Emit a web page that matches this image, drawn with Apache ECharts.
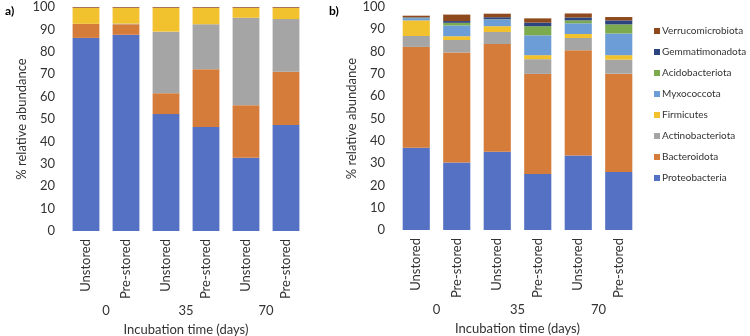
<!DOCTYPE html>
<html>
<head>
<meta charset="utf-8">
<script src="https://cdn.jsdelivr.net/npm/echarts@6/dist/echarts.min.js"></script>
<style>
  html, body { margin: 0; padding: 0; background: #fff; }
  #chart { width: 750px; height: 336px; }
</style>
</head>
<body>
<div id="chart"></div>
<script>
  // sample labels, two per incubation time
  const samples = ['Unstored', 'Pre-stored', 'Unstored', 'Pre-stored', 'Unstored', 'Pre-stored'];
  const days = ['0', '35', '70'];
  const yTicks = [0, 10, 20, 30, 40, 50, 60, 70, 80, 90, 100];

  const phyla = ['Proteobacteria', 'Bacteroidota', 'Actinobacteriota', 'Firmicutes',
    'Myxococcota', 'Acidobacteriota', 'Gemmatimonadota', 'Verrucomicrobiota'];
  const colors = ['#5571c3', '#d67c3a', '#a5a5a5', '#f1c12e', '#6d9dd7', '#7caa4f', '#2c4480', '#8e4a1d'];

  // panel a)
  const aProteo = [86.2, 87.6, 52.2, 46.4, 32.7, 47.3];
  const aBactero = [6.2, 4.7, 9.3, 25.8, 23.4, 23.8];
  const aActino = [0.1, 0.3, 27.5, 20.1, 39.1, 23.5];
  const aFirmic = [7.1, 7.0, 10.6, 7.3, 4.4, 5.0];
  const aMyxo = [0, 0, 0, 0, 0, 0];
  const aAcido = [0, 0, 0, 0, 0, 0];
  const aGemma = [0.1, 0.1, 0.1, 0.1, 0.1, 0.1];
  const aVerruco = [0.3, 0.3, 0.3, 0.3, 0.3, 0.3];

  // panel b)
  const bProteo = [36.9, 30.3, 35.1, 25.1, 33.4, 26.0];
  const bBactero = [45.2, 49.3, 48.3, 44.9, 47.2, 44.1];
  const bActino = [4.9, 5.6, 5.4, 6.6, 5.5, 6.3];
  const bFirmic = [7.0, 1.7, 2.6, 1.8, 1.8, 2.0];
  const bMyxo = [1.0, 4.8, 3.0, 8.9, 4.8, 9.7];
  const bAcido = [0.2, 1.2, 0.1, 4.1, 1.3, 4.1];
  const bGemma = [0.2, 0.8, 0.9, 1.6, 1.3, 1.8];
  const bVerruco = [0.7, 2.9, 1.6, 1.9, 1.8, 1.5];

  const panelA = [aProteo, aBactero, aActino, aFirmic, aMyxo, aAcido, aGemma, aVerruco];
  const panelB = [bProteo, bBactero, bActino, bFirmic, bMyxo, bAcido, bGemma, bVerruco];

  const font = 'Lato';
  const txt = '#333';
  const fs = 13;

  function makeSeries(panel, idx) {
    return panel.map((vals, i) => ({
      name: phyla[i],
      type: 'bar',
      stack: 'p' + idx,
      xAxisIndex: idx * 2,
      yAxisIndex: idx,
      barWidth: '67%',
      itemStyle: { color: colors[i] },
      data: vals
    }));
  }

  function sampleAxis(grid) {
    return {
      type: 'category',
      gridIndex: grid,
      data: samples,
      axisLine: { show: false },
      axisTick: { show: false },
      axisLabel: { rotate: 90, margin: 8, fontFamily: font, fontSize: fs, color: txt }
    };
  }

  function dayAxis(grid) {
    return {
      type: 'category',
      gridIndex: grid,
      position: 'bottom',
      offset: 73,
      data: days,
      axisLine: { show: false },
      axisTick: { show: false },
      axisLabel: { margin: 0, fontFamily: font, fontSize: fs, color: txt },
      name: 'Incubation time (days)',
      nameLocation: 'middle',
      nameGap: 19,
      nameTextStyle: { fontFamily: font, fontSize: fs, color: txt }
    };
  }

  function valueAxis(grid) {
    return {
      type: 'value',
      gridIndex: grid,
      min: 0,
      max: 100,
      interval: 10,
      splitLine: { show: false },
      axisLine: { show: false },
      axisTick: { show: false },
      axisLabel: { margin: 11, fontFamily: font, fontSize: fs, color: txt },
      name: '% relative abundance',
      nameLocation: 'middle',
      nameGap: 37,
      nameTextStyle: { fontFamily: font, fontSize: fs, color: txt }
    };
  }

  const chart = echarts.init(document.getElementById('chart'));
  const options = {
    animation: false,
    title: [
      { text: 'a)', left: 0, top: 0, textStyle: { fontFamily: font, fontSize: 12, fontWeight: 'bold', color: '#000' } },
      { text: 'b)', left: 324, top: 0, textStyle: { fontFamily: font, fontSize: 12, fontWeight: 'bold', color: '#000' } }
    ],
    grid: [
      { left: 66, right: 444, top: 7, bottom: 105, outerBoundsMode: 'none' },
      { left: 396, right: 111, top: 7, bottom: 106, outerBoundsMode: 'none' }
    ],
    xAxis: [sampleAxis(0), dayAxis(0), sampleAxis(1), dayAxis(1)],
    yAxis: [valueAxis(0), valueAxis(1)],
    legend: {
      orient: 'vertical',
      left: 649,
      top: 21,
      itemWidth: 6,
      itemHeight: 6,
      itemGap: 11,
      icon: 'rect',
      data: phyla.slice().reverse(),
      textStyle: { fontFamily: font, fontSize: 10, color: txt, padding: [0, 0, 0, -3] }
    },
    series: makeSeries(panelA, 0).concat(makeSeries(panelB, 1))
  };
  chart.setOption(options);
</script>
</body>
</html>
